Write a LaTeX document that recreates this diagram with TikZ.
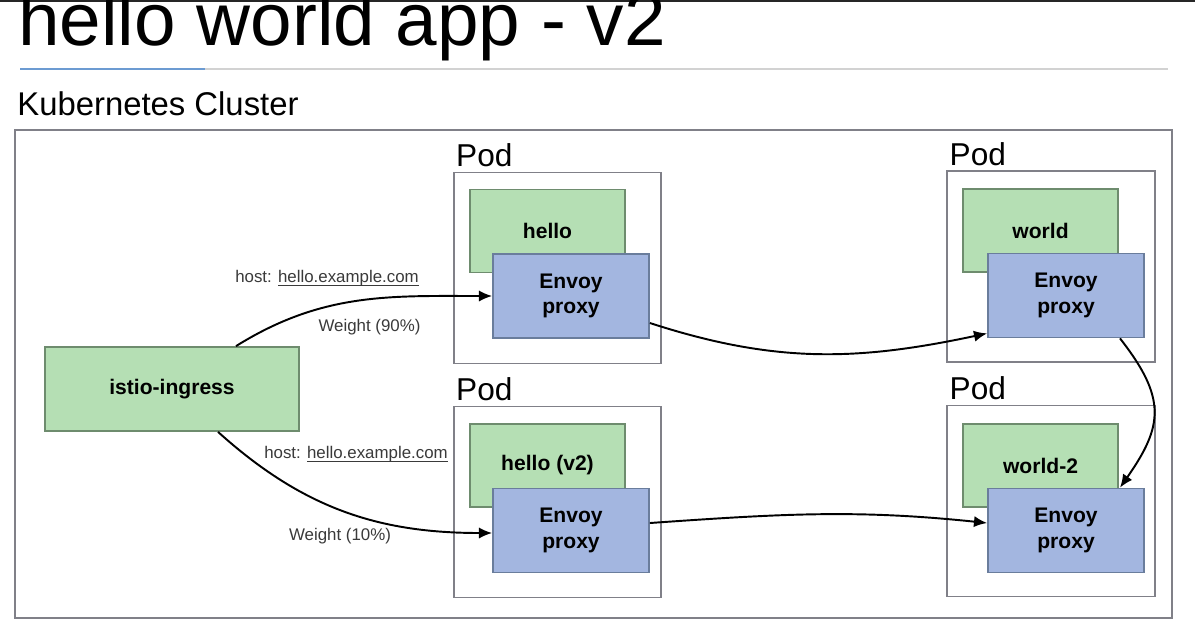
\documentclass[tikz,border=0pt]{standalone}
\usepackage{fontspec}
\setmainfont{Liberation Sans}
\usepackage{tikz}
\usetikzlibrary{
  arrows,
  arrows.meta,
  positioning,
  backgrounds
}
\definecolor{appgreen}{HTML}{B5DFB4}
\definecolor{appgreenline}{HTML}{6E8C6E}
\definecolor{proxyblue}{HTML}{A3B6E0}
\definecolor{proxyblueline}{HTML}{6A7D9C}
\definecolor{podgray}{HTML}{808088}
\definecolor{rulegray}{HTML}{D2D2D2}
\definecolor{ruleblue}{HTML}{6C9BD2}
\definecolor{labelgray}{HTML}{3A3A3A}
\newcommand{\hostlink}[1]{{\setbox0\hbox{#1}\rlap{\rule[-1.7pt]{\wd0}{0.45pt}}\box0}}

\begin{document}
\begin{tikzpicture}[
      x=0.02cm, y=-0.02cm,
      cluster/.style={
         rectangle,
         draw=podgray,
         line width=1.1pt,
         minimum width=23.14cm,
         minimum height=9.76cm
      },
      pod/.style={
         rectangle,
         draw=podgray,
         line width=1.1pt,
         fill=white,
         minimum width=4.15cm,
         minimum height=3.82cm
      },
      app/.style={
         rectangle,
         draw=appgreenline,
         line width=1pt,
         fill=appgreen,
         minimum width=3.1cm,
         minimum height=1.66cm,
         font=\fontsize{12}{14}\selectfont\bfseries
      },
      proxy/.style={
         rectangle,
         draw=proxyblueline,
         line width=1pt,
         fill=proxyblue,
         minimum width=3.12cm,
         minimum height=1.68cm,
         align=center,
         font=\fontsize{12}{14.7}\selectfont\bfseries
      },
      podlabel/.style={
         anchor=base west,
         inner sep=0pt,
         font=\fontsize{18}{20}\selectfont
      },
      edgelabel/.style={
         inner sep=0pt,
         text=labelgray,
         font=\fontsize{9.6}{11}\selectfont
      },
      flow/.style={-{Latex[length=7.5pt,width=6.4pt]},line width=1.1pt,black}
    ]
    \useasboundingbox (0,0) rectangle (1195,623);
    \clip (0,0) rectangle (1195,623);
    \fill[white] (0,0) rectangle (1195,623);
    \draw[line width=2pt,black!85] (0,0) -- (1195,0);

    % title and rule
    \node (title) [anchor=base west, inner sep=0pt,
       font=\fontsize{42.5}{46}\selectfont] at (18,45) {hello world app - v2};
    \draw[rulegray, line width=0.7pt] (205,69) -- (1168,69);
    \draw[ruleblue, line width=0.9pt] (20,69) -- (205,69);

    % cluster
    \node (k8s) [anchor=base west, inner sep=0pt,
       font=\fontsize{18.7}{20}\selectfont] at (17,115) {Kubernetes Cluster};
    \node (cluster) [cluster] at (593.5,374) {};

    % pods
    \node (pod1) [pod] at (557.5,268) {};
    \node (pod2) [pod] at (557.5,502) {};
    \node (pod3) [pod] at (1051,266.5) {};
    \node (pod4) [pod] at (1051,501) {};
    \node (lpod1) [podlabel] at ([xshift=0.06cm,yshift=0.1cm]pod1.north west) {Pod};
    \node (lpod2) [podlabel] at ([xshift=0.06cm,yshift=0.1cm]pod2.north west) {Pod};
    \node (lpod3) [podlabel] at ([xshift=0.06cm,yshift=0.1cm]pod3.north west) {Pod};
    \node (lpod4) [podlabel] at ([xshift=0.06cm,yshift=0.1cm]pod4.north west) {Pod};

    % apps and sidecars
    \node (hello) [app] at (547.5,231) {hello};
    \node (hellov2) [app] at (547.5,465.5) {hello (v2)};
    \node (world) [app] at (1040.5,230.5) {world};
    \node (world2) [app] at (1040.5,465.5) {world-2};
    \node (envoy1) [proxy] at (571,296) {Envoy\\proxy};
    \node (envoy2) [proxy] at (571,530.5) {Envoy\\proxy};
    \node (envoy3) [proxy] at (1066,295.5) {Envoy\\proxy};
    \node (envoy4) [proxy] at (1066,530.5) {Envoy\\proxy};

    \node (ingress) [app, minimum width=5.08cm, minimum height=1.68cm] at (172,389) {istio-ingress};

    % routes
    \draw[flow] ([xshift=1.28cm]ingress.north) to[out=32,in=180] (envoy1.west);
    \draw[flow] ([xshift=0.92cm]ingress.south) to[out=-42,in=180] ([yshift=-0.05cm]envoy2.west);
    \draw[flow] ([yshift=-0.54cm]envoy1.east) to[out=-18,in=192] ([yshift=0.1cm]envoy3.south west);
    \draw[flow] ([yshift=0.15cm]envoy2.east) to[out=4,in=174] ([yshift=0.15cm]envoy4.west);
    \draw[flow] ([xshift=1.08cm]envoy3.south) to[out=-52,in=55,looseness=1.3] ([xshift=1.08cm]envoy4.north);

    \node (host1) [edgelabel] at (327,278) {host: \hostlink{hello.example.com}};
    \node (weight1) [edgelabel] at (369.5,327) {Weight (90\%)};
    \node (host2) [edgelabel] at (356,454) {host: \hostlink{hello.example.com}};
    \node (weight2) [edgelabel] at (340,536) {Weight (10\%)};
\end{tikzpicture}
\end{document}
